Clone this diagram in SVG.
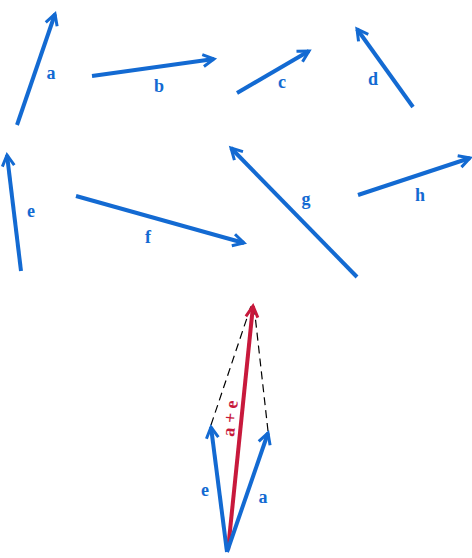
<svg xmlns="http://www.w3.org/2000/svg" width="472" height="558" viewBox="0 0 472 558">
<style>
.v{stroke:#136ad2;stroke-width:4;fill:none}
.r{stroke:#c8193c;stroke-width:4;fill:none}
.d{stroke:#000;stroke-width:1.2;stroke-dasharray:8 5;fill:none}
.lb{font-family:"Liberation Serif",serif;font-weight:bold;font-size:18px;fill:#136ad2;text-anchor:middle}
.lr{font-family:"Liberation Serif",serif;font-weight:bold;font-size:18px;fill:#c8193c;text-anchor:middle}
</style>
<defs>
<marker id="ab" markerUnits="userSpaceOnUse" markerWidth="16" markerHeight="16" viewBox="-12 -8 16 16" refX="0" refY="0" orient="auto" overflow="visible">
<path d="M-11,-6 L0,0 L-11,6" fill="none" stroke="#136ad2" stroke-width="3"/>
</marker>
<marker id="ar" markerUnits="userSpaceOnUse" markerWidth="16" markerHeight="16" viewBox="-12 -8 16 16" refX="0" refY="0" orient="auto" overflow="visible">
<path d="M-11,-6 L0,0 L-11,6" fill="none" stroke="#c8193c" stroke-width="3"/>
</marker>
</defs>
<g id="connectors">
<line id="va" class="v" x1="17" y1="125" x2="55" y2="14" marker-end="url(#ab)"/>
<line id="vb" class="v" x1="92" y1="76" x2="214" y2="59" marker-end="url(#ab)"/>
<line id="vc" class="v" x1="237" y1="93" x2="309" y2="51" marker-end="url(#ab)"/>
<line id="vd" class="v" x1="413" y1="107" x2="357" y2="29" marker-end="url(#ab)"/>
<line id="ve" class="v" x1="21" y1="271" x2="7" y2="155" marker-end="url(#ab)"/>
<line id="vf" class="v" x1="76" y1="196" x2="244" y2="243" marker-end="url(#ab)"/>
<line id="vg" class="v" x1="357" y1="277" x2="231" y2="148" marker-end="url(#ab)"/>
<line id="vh" class="v" x1="358" y1="195" x2="470" y2="158" marker-end="url(#ab)"/>
<line id="dash1" class="d" x1="211" y1="425" x2="251" y2="306"/>
<line id="dash2" class="d" x1="268" y1="431" x2="254" y2="306"/>
<line id="sum" class="r" x1="228" y1="550" x2="253" y2="306" marker-end="url(#ar)"/>
<line id="ve2" class="v" x1="227" y1="552" x2="211" y2="427" marker-end="url(#ab)"/>
<line id="va2" class="v" x1="227" y1="552" x2="268" y2="433" marker-end="url(#ab)"/>
</g>
<g id="labels">
<text class="lb" x="51" y="79">a</text>
<text class="lb" x="159" y="92">b</text>
<text class="lb" x="282" y="88">c</text>
<text class="lb" x="373" y="85">d</text>
<text class="lb" x="31" y="217">e</text>
<text class="lb" x="148" y="243">f</text>
<text class="lb" x="306" y="205">g</text>
<text class="lb" x="420" y="201">h</text>
<text class="lb" x="205" y="496">e</text>
<text class="lb" x="263" y="503">a</text>
<text class="lr" transform="translate(236,419) rotate(-84)" x="0" y="0">a + e</text>
</g>
</svg>
